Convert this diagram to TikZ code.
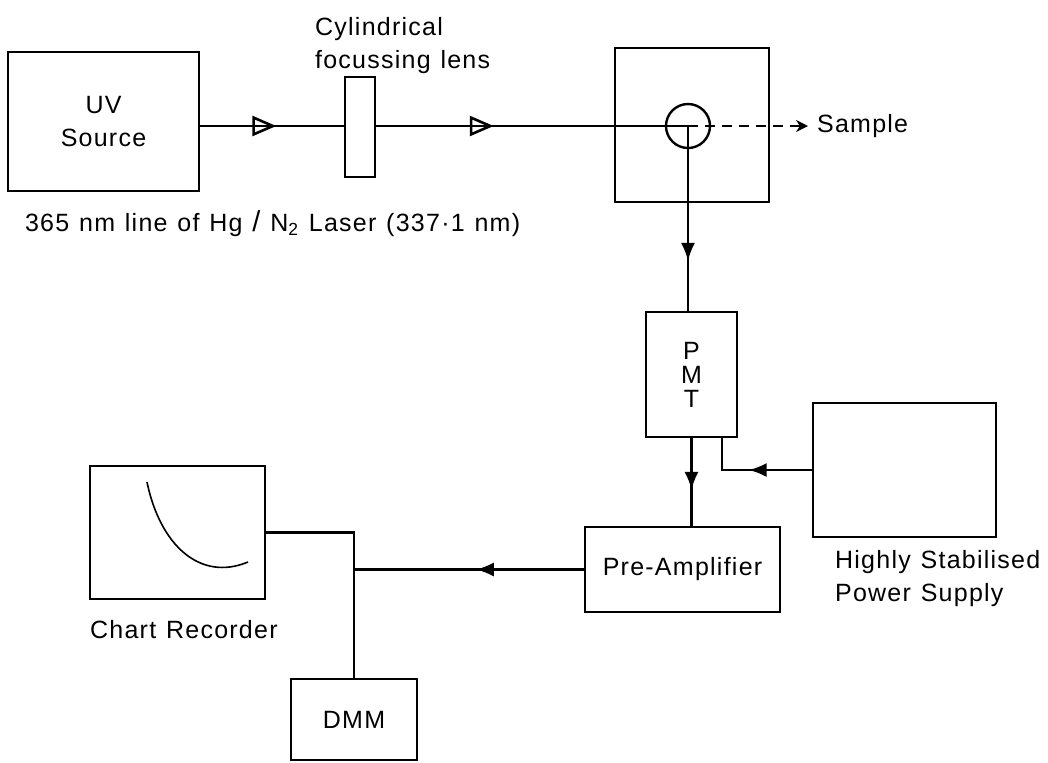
\documentclass[tikz,border=0pt]{standalone}
\usepackage{fontspec}
\setmainfont{Liberation Sans}[LetterSpace=5, WordSpace=1.2]
\usetikzlibrary{calc, positioning, arrows.meta, decorations.markings}

\begin{document}
\begin{tikzpicture}[
  x=0.5pt, y=-0.5pt,
  font=\fontsize{12.5}{16.5}\selectfont,
  line width=1.1pt,
  box/.style={draw, line width=1.2pt, inner sep=0pt, align=center},
  lbl/.style={inner sep=0pt, align=left, anchor=north west},
  beam/.style={postaction={decorate}, decoration={markings,
      mark=at position #1 with {\arrow{Triangle[open, length=12pt, width=10pt, line width=1.3pt]}}}},
  sig/.style={postaction={decorate}, decoration={markings,
      mark=at position #1 with {\arrow{Latex[length=9pt, width=7pt]}}}},
]
\useasboundingbox (0,0) rectangle (1048,762);

\node[box, minimum width=95.5pt, minimum height=69.5pt] (uv) at (103.5,121.5) {UV\\Source};
\node[box, minimum width=15pt, minimum height=50pt] (lens) at (360,127) {};
\node[lbl] (lenslbl) at (314,16) {Cylindrical\\focussing lens};
\node[box, minimum width=77pt, minimum height=77pt] (cell) at (692,125) {};
\node[draw, circle, line width=1.2pt, minimum size=22pt, inner sep=0pt] (circ) at (688,126) {};
\node[inner sep=0pt, anchor=west] (sample) at (816,126) {Sample};
\node[lbl] (laser) at (24,210) {365 nm line of Hg {\Large /} N\textsubscript{2} Laser (337·1 nm)};

\node[box, minimum width=45.5pt, minimum height=62.5pt,
      font=\fontsize{12.5}{12}\selectfont] (pmt) at (691.5,374.5) {P\\M\\T};
\node[box, minimum width=97.5pt, minimum height=42.5pt] (preamp) at (682.5,569.5) {Pre-Amplifier};
\node[box, minimum width=91.5pt, minimum height=67pt] (psu) at (904.5,470) {};
\node[lbl] (psulbl) at (834,549) {Highly Stabilised\\Power Supply};

\node[box, minimum width=87.5pt, minimum height=66.5pt] (chart) at (177.5,532.5) {};
\node[lbl] (chartlbl) at (89,619) {Chart Recorder};
\node[box, minimum width=63pt, minimum height=40.5pt] (dmm) at (354,719.5) {DMM};
\coordinate (junc) at (dmm.north |- preamp.west);
\coordinate (tap) at ([xshift=-8pt]pmt.south east);

\draw[beam=0.53] (uv.east |- circ.center) -- (lens.west |- circ.center);
\draw[beam=0.377] (lens.east |- circ.center) -- (circ.center);
\draw[dash pattern=on 5pt off 3.5pt, shorten >=4pt, -{Stealth[length=6pt, width=6pt]}] (circ.center) -- (sample.west);
\draw[sig=0.73] (circ.center) -- (circ.center |- pmt.north);
\draw[sig=0.59] (pmt.south) -- (pmt.south |- preamp.north);
\draw[sig=0.52] (psu.west) -| (tap);
\draw[sig=0.47] (preamp.west) -- (junc);
\draw (chart.east) -| (dmm.north);
\draw[line width=0.8pt] (147,482) .. controls (160,545) and (200,582) .. (248,562);
\end{tikzpicture}
\end{document}
